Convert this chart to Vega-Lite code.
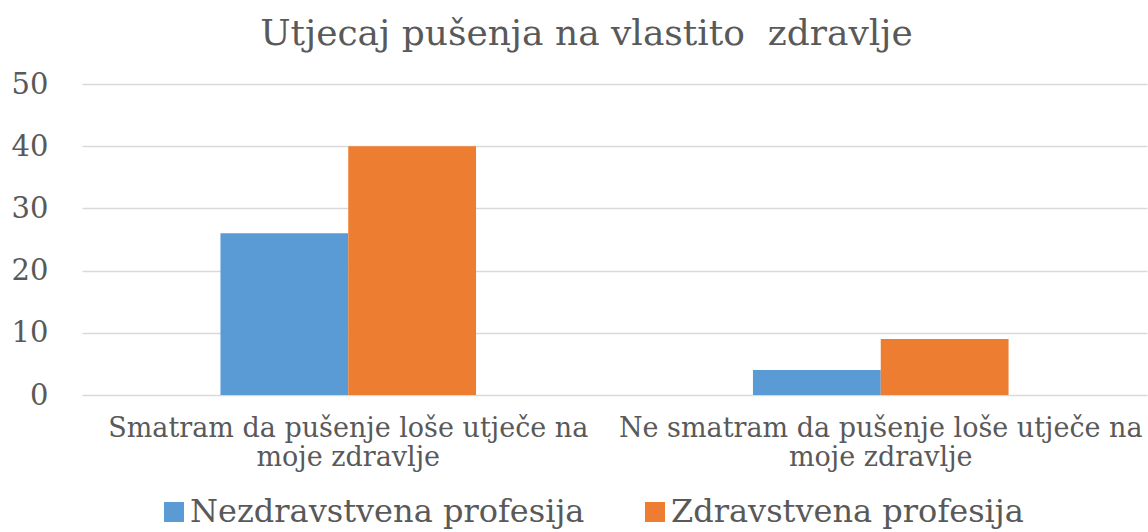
{
  "$schema": "https://vega.github.io/schema/vega-lite/v6.json",
  "autosize": {"type": "none"},
  "width": 1065,
  "height": 311,
  "padding": {"left": 82, "top": 84, "right": 1, "bottom": 137},
  "background": "white",
  "config": {
    "font": "DejaVu Serif",
    "view": {"stroke": null}
  },
  "title": {
    "text": "Utjecaj pušenja na vlastito\u00a0 zdravlje",
    "font": "DejaVu Serif",
    "fontSize": 36,
    "fontWeight": "normal",
    "color": "#595959",
    "anchor": "middle",
    "frame": "group",
    "dx": -28,
    "offset": 17
  },
  "data": {
    "values": [
      {"kategorija": "Smatram da pušenje loše utječe na moje zdravlje", "skupina": "Nezdravstvena profesija", "vrijednost": 26},
      {"kategorija": "Smatram da pušenje loše utječe na moje zdravlje", "skupina": "Zdravstvena profesija", "vrijednost": 40},
      {"kategorija": "Ne smatram da pušenje loše utječe na moje zdravlje", "skupina": "Nezdravstvena profesija", "vrijednost": 4},
      {"kategorija": "Ne smatram da pušenje loše utječe na moje zdravlje", "skupina": "Zdravstvena profesija", "vrijednost": 9}
    ]
  },
  "mark": {"type": "bar"},
  "encoding": {
    "x": {
      "field": "kategorija",
      "type": "nominal",
      "sort": null,
      "scale": {"paddingInner": 0.52, "paddingOuter": 0.26},
      "axis": {
        "title": null,
        "labelAngle": 0,
        "domain": false,
        "ticks": false,
        "labelFont": "DejaVu Serif",
        "labelFontSize": 27,
        "labelColor": "#595959",
        "labelPadding": 20,
        "labelLineHeight": 29,
        "labelLimit": 0,
        "labelExpr": "[replace(datum.label, ' moje zdravlje', ''), 'moje zdravlje']"
      }
    },
    "xOffset": {"field": "skupina", "type": "nominal", "scale": {"paddingInner": 0, "paddingOuter": 0}},
    "y": {
      "field": "vrijednost",
      "type": "quantitative",
      "scale": {"domain": [0, 50]},
      "axis": {
        "title": null,
        "values": [0, 10, 20, 30, 40, 50],
        "domain": false,
        "ticks": false,
        "grid": true,
        "gridColor": "#D9D9D9",
        "gridWidth": 1.5,
        "labelFont": "DejaVu Serif",
        "labelFontSize": 29,
        "labelColor": "#595959",
        "labelPadding": 34
      }
    },
    "color": {
      "field": "skupina",
      "type": "nominal",
      "scale": {"domain": ["Nezdravstvena profesija", "Zdravstvena profesija"], "range": ["#5B9BD5", "#ED7D31"]},
      "legend": {
        "title": null,
        "orient": "none",
        "direction": "horizontal",
        "legendX": 76,
        "legendY": 412,
        "padding": 0,
        "symbolType": "square",
        "symbolSize": 400,
        "symbolStrokeWidth": 0,
        "labelFont": "DejaVu Serif",
        "labelFontSize": 32,
        "labelColor": "#595959",
        "labelLimit": 0,
        "columnPadding": 54,
        "labelOffset": 0
      }
    }
  }
}
